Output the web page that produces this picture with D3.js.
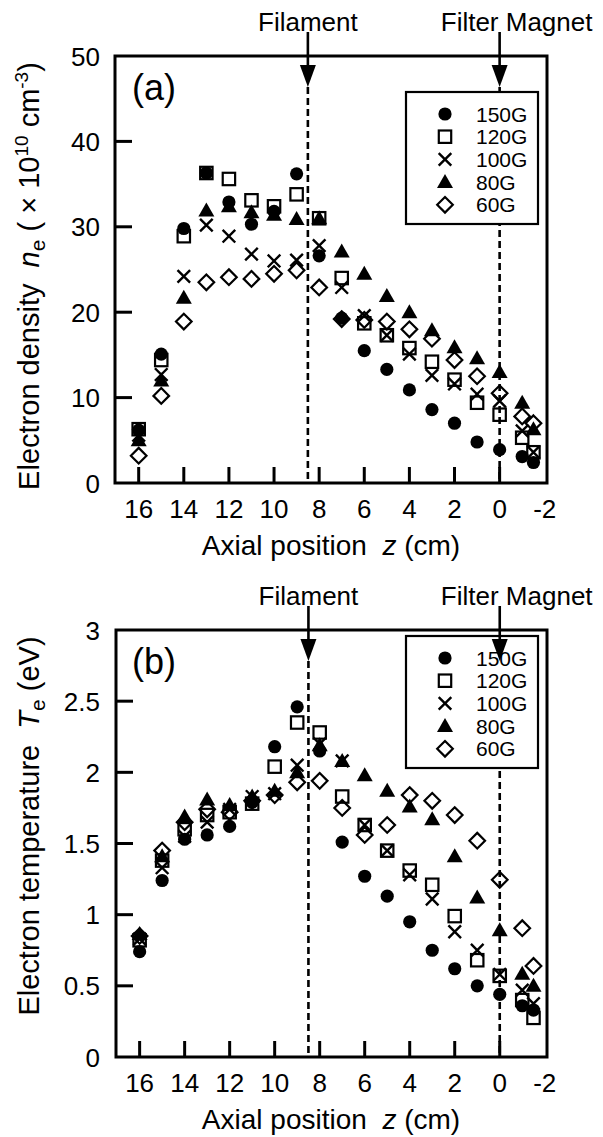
<!DOCTYPE html>
<html>
<head>
<meta charset="utf-8">
<script src="https://cdn.jsdelivr.net/npm/d3@7"></script>
<style>
  html, body { margin: 0; padding: 0; background: #fff; }
  svg { display: block; }
  text { font-family: "Liberation Sans", Arial, Helvetica, sans-serif; fill: #000; }
</style>
</head>
<body>
<svg id="fig" width="603" height="1137"></svg>
<script>
// Axial positions of the probe measurements (cm)
const zPositions = [16, 15, 14, 13, 12, 11, 10, 9, 8, 7, 6, 5, 4, 3, 2, 1, 0, -1, -1.5];

// Filter field strengths and their markers
const fieldLabels = ["150G", "120G", "100G", "80G", "60G"];
const markerShapes = ["circle", "square", "cross", "triangle", "diamond"];

// (a) electron density n_e (x 10^10 cm^-3)
const density150G = [6.2, 15.1, 29.8, 36.3, 32.9, 30.3, 31.8, 36.2, 26.6, 19.3, 15.5, 13.3, 10.9, 8.6, 7.0, 4.8, 3.9, 3.1, 2.4];
const density120G = [6.3, 14.4, 28.9, 36.3, 35.6, 33.1, 32.4, 33.8, 31.0, 24.0, 18.7, 17.3, 15.8, 14.2, 12.1, 9.4, 8.0, 5.3, 3.6];
const density100G = [5.6, 12.7, 24.2, 30.2, 28.9, 26.8, 26.0, 26.1, 27.8, 22.9, 19.6, 17.3, 15.1, 12.6, 11.6, 10.4, 9.6, 6.1, 3.6];
const density80G  = [5.0, 12.0, 21.7, 31.9, 32.4, 31.7, 31.4, 30.9, 31.0, 27.1, 24.5, 21.9, 20.0, 17.9, 15.9, 14.6, 13.0, 9.4, 6.3];
const density60G  = [3.2, 10.2, 18.9, 23.5, 24.1, 23.9, 24.5, 24.9, 22.9, 19.2, 19.1, 18.9, 18.0, 16.9, 14.4, 12.5, 10.5, 7.8, 7.0];

// (b) electron temperature T_e (eV)
const temperature150G = [0.74, 1.24, 1.53, 1.56, 1.62, 1.79, 2.18, 2.46, 2.15, 1.51, 1.27, 1.13, 0.95, 0.75, 0.62, 0.50, 0.44, 0.36, 0.33];
const temperature120G = [0.82, 1.38, 1.60, 1.70, 1.72, 1.78, 2.04, 2.35, 2.28, 1.83, 1.63, 1.45, 1.31, 1.21, 0.99, 0.68, 0.57, 0.40, 0.275];
const temperature100G = [0.83, 1.33, 1.55, 1.65, 1.74, 1.83, 1.85, 2.05, 2.20, 2.08, 1.63, 1.45, 1.28, 1.11, 0.88, 0.75, 0.58, 0.47, 0.375];
const temperature80G  = [0.865, 1.41, 1.69, 1.81, 1.77, 1.83, 1.87, 2.00, 2.19, 2.08, 1.98, 1.87, 1.76, 1.67, 1.41, 1.12, 0.89, 0.585, 0.50];
const temperature60G  = [0.85, 1.45, 1.65, 1.74, 1.72, 1.80, 1.84, 1.93, 1.94, 1.75, 1.56, 1.63, 1.84, 1.80, 1.70, 1.52, 1.245, 0.905, 0.64];

// Axis ticks
const zTicks = [16, 14, 12, 10, 8, 6, 4, 2, 0];
const zTickLabels = [16, 14, 12, 10, 8, 6, 4, 2, 0, -2];
const densityTicks = [0, 10, 20, 30, 40, 50];
const temperatureTicks = [0, 0.5, 1, 1.5, 2, 2.5, 3];

// Landmarks along the axis
const filamentZ = 8.5;
const magnetZ = 0;

const svg = d3.select("#fig");
const FONT = 26;

function drawMarker(g, shape, cx, cy) {
  if (shape === "circle") {
    g.append("circle").attr("cx", cx).attr("cy", cy).attr("r", 6.6).attr("fill", "#000");
  } else if (shape === "square") {
    g.append("rect").attr("x", cx - 6.2).attr("y", cy - 6.2).attr("width", 12.4).attr("height", 12.4)
      .attr("fill", "none").attr("stroke", "#000").attr("stroke-width", 2.2);
  } else if (shape === "cross") {
    const h = 6.3;
    g.append("path").attr("d", `M${cx - h},${cy - h}L${cx + h},${cy + h}M${cx - h},${cy + h}L${cx + h},${cy - h}`)
      .attr("fill", "none").attr("stroke", "#000").attr("stroke-width", 2.4);
  } else if (shape === "triangle") {
    const w = 8, t = 8, b = 6;
    g.append("path").attr("d", `M${cx},${cy - t}L${cx + w},${cy + b}L${cx - w},${cy + b}Z`).attr("fill", "#000");
  } else if (shape === "diamond") {
    const d = 7.8;
    g.append("path").attr("d", `M${cx},${cy - d}L${cx + d},${cy}L${cx},${cy + d}L${cx - d},${cy}Z`)
      .attr("fill", "none").attr("stroke", "#000").attr("stroke-width", 2.2);
  }
}

function drawPanel(p) {
  const g = svg.append("g");
  const x = d3.scaleLinear().domain([17.05, -2.1]).range([p.left, p.right]);
  const y = d3.scaleLinear().domain(p.yDomain).range([p.bottom, p.top]);

  // frame
  g.append("rect").attr("x", p.left).attr("y", p.top)
    .attr("width", p.right - p.left).attr("height", p.bottom - p.top)
    .attr("fill", "none").attr("stroke", "#000").attr("stroke-width", 3);

  // inward ticks on the bottom axis
  g.selectAll(".xt").data(zTicks).enter().append("line")
    .attr("x1", d => x(d)).attr("x2", d => x(d))
    .attr("y1", p.bottom).attr("y2", p.bottom - 16)
    .attr("stroke", "#000").attr("stroke-width", 3);
  // inward ticks on the left axis
  g.selectAll(".yt").data(p.yTicks.slice(1, -1)).enter().append("line")
    .attr("x1", p.left).attr("x2", p.left + 17)
    .attr("y1", d => y(d)).attr("y2", d => y(d))
    .attr("stroke", "#000").attr("stroke-width", 3);

  // tick labels
  g.selectAll(".xl").data(zTickLabels).enter().append("text")
    .attr("x", d => x(d)).attr("y", p.bottom + 35)
    .attr("text-anchor", "middle").attr("font-size", FONT).text(d => d);
  g.selectAll(".yl").data(p.yTicks).enter().append("text")
    .attr("x", 100).attr("y", d => y(d) + 9.5)
    .attr("text-anchor", "end").attr("font-size", FONT).text(d => d);

  // axis titles
  const xt = g.append("text").attr("x", 331).attr("y", p.bottom + 72)
    .attr("text-anchor", "middle").attr("font-size", 28);
  xt.append("tspan").text("Axial position\u00a0\u00a0");
  xt.append("tspan").attr("font-style", "italic").text("z");
  xt.append("tspan").text(" (cm)");

  const yt = g.append("text").attr("transform", `translate(39,${p.yTitleCenter}) rotate(-90)`)
    .attr("text-anchor", "middle").attr("font-size", 29);
  p.yTitle(yt);

  // filament and magnet positions
  [filamentZ, magnetZ].forEach(zv => {
    g.append("line").attr("x1", x(zv)).attr("x2", x(zv))
      .attr("y1", p.top + 31).attr("y2", p.bottom)
      .attr("stroke", "#000").attr("stroke-width", 2.6).attr("stroke-dasharray", "7,4");
  });

  // legend box
  const lg = g.append("g");
  lg.append("rect").attr("x", 406).attr("y", p.legendTop).attr("width", 132).attr("height", 132)
    .attr("fill", "#fff").attr("stroke", "#000").attr("stroke-width", 2.2);
  fieldLabels.forEach((lab, i) => {
    const ry = p.legendTop + 22 + i * 22.7;
    drawMarker(lg, markerShapes[i], 445, ry);
    lg.append("text").attr("x", 476).attr("y", ry + 7.6).attr("font-size", 21).text(lab);
  });

  // data markers
  const mg = g.append("g");
  p.series.forEach((vals, i) => {
    vals.forEach((v, j) => drawMarker(mg, markerShapes[i], x(zPositions[j]), y(v)));
  });

  // arrows with captions
  [[filamentZ, "Filament", 0], [magnetZ, "Filter Magnet", 17]].forEach(([zv, lab, dx]) => {
    const ax = x(zv);
    const headTop = p.top + 9, tip = p.top + 31;
    g.append("line").attr("x1", ax).attr("x2", ax).attr("y1", p.top - 24).attr("y2", headTop + 1)
      .attr("stroke", "#000").attr("stroke-width", 2.6);
    g.append("path").attr("d", `M${ax - 8},${headTop}L${ax + 8},${headTop}L${ax},${tip}Z`).attr("fill", "#000");
    g.append("text").attr("x", ax + dx).attr("y", p.top - 25).attr("text-anchor", "middle")
      .attr("font-size", 26).text(lab);
  });

  // panel letter
  g.append("text").attr("x", 132).attr("y", p.top + 44).attr("font-size", 36).text(p.letter);
}

drawPanel({
  top: 56, bottom: 483, left: 115, right: 547,
  yDomain: [0, 50], yTicks: densityTicks,
  series: [density150G, density120G, density100G, density80G, density60G],
  legendTop: 92, letter: "(a)", yTitleCenter: 276,
  yTitle: t => {
    t.append("tspan").text("Electron density\u00a0\u00a0");
    t.append("tspan").attr("font-style", "italic").text("n");
    t.append("tspan").attr("font-size", 21).attr("dy", 6).text("e");
    t.append("tspan").attr("dy", -6).text("\u00a0(\u00a0×\u00a010");
    t.append("tspan").attr("font-size", 19).attr("dy", -11).text("10");
    t.append("tspan").attr("dy", 11).text("\u00a0cm");
    t.append("tspan").attr("font-size", 19).attr("dy", -11).text("-3");
    t.append("tspan").attr("dy", 11).text(")");
  }
});

drawPanel({
  top: 630, bottom: 1057, left: 116, right: 547,
  yDomain: [0, 3], yTicks: temperatureTicks,
  series: [temperature150G, temperature120G, temperature100G, temperature80G, temperature60G],
  legendTop: 636, letter: "(b)", yTitleCenter: 826,
  yTitle: t => {
    t.append("tspan").text("Electron temperature\u00a0\u00a0");
    t.append("tspan").attr("font-style", "italic").text("T");
    t.append("tspan").attr("font-size", 21).attr("dy", 6).text("e");
    t.append("tspan").attr("dy", -6).text(" (eV)");
  }
});
</script>
</body>
</html>
